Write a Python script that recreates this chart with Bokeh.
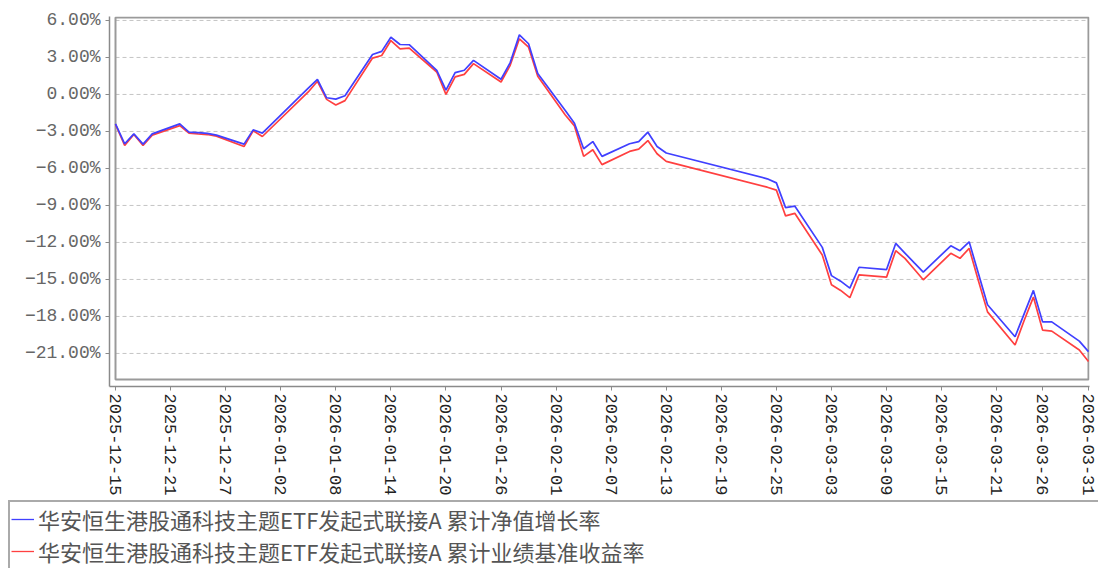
import pandas as pd
from bokeh.plotting import figure
from bokeh.layouts import column
from bokeh.models import (FixedTicker, DatetimeTickFormatter, Range1d, Legend,
                          LegendItem, ColumnDataSource)
from bokeh.embed import file_html
from bokeh.resources import INLINE

# ---------------- data ----------------
dates = [
    "2025-12-15", "2025-12-16", "2025-12-17", "2025-12-18", "2025-12-19",
    "2025-12-22", "2025-12-23", "2025-12-24", "2025-12-25", "2025-12-26",
    "2025-12-29", "2025-12-30", "2025-12-31",
    "2026-01-05", "2026-01-06", "2026-01-07", "2026-01-08", "2026-01-09",
    "2026-01-12", "2026-01-13", "2026-01-14", "2026-01-15", "2026-01-16",
    "2026-01-19", "2026-01-20", "2026-01-21", "2026-01-22", "2026-01-23",
    "2026-01-26", "2026-01-27", "2026-01-28", "2026-01-29", "2026-01-30",
    "2026-02-02", "2026-02-03", "2026-02-04", "2026-02-05", "2026-02-06",
    "2026-02-09", "2026-02-10", "2026-02-11", "2026-02-12", "2026-02-13",
    "2026-02-24", "2026-02-25", "2026-02-26", "2026-02-27",
    "2026-03-02", "2026-03-03", "2026-03-04", "2026-03-05", "2026-03-06",
    "2026-03-09", "2026-03-10", "2026-03-11", "2026-03-12", "2026-03-13",
    "2026-03-16", "2026-03-17", "2026-03-18", "2026-03-19", "2026-03-20",
    "2026-03-23", "2026-03-24", "2026-03-25", "2026-03-26", "2026-03-27",
    "2026-03-30", "2026-03-31",
]

nav_growth = [
    -2.39, -4.00, -3.20, -4.03, -3.20,
    -2.39, -3.06, -3.10, -3.15, -3.30,
    -4.03, -2.87, -3.14,
    0.52, 1.23, -0.27, -0.38, -0.11,
    3.24, 3.49, 4.64, 4.05, 4.03,
    1.96, 0.35, 1.77, 1.96, 2.76,
    1.23, 2.58, 4.83, 4.11, 1.69,
    -1.30, -2.33, -4.40, -3.82, -5.02,
    -4.00, -3.82, -3.06, -4.22, -4.75,
    -6.84, -7.17, -9.18, -9.05,
    -12.40, -14.69, -15.14, -15.70, -14.01,
    -14.20, -12.08, -12.86, -13.64, -14.41,
    -12.27, -12.67, -11.95, -14.50, -17.05,
    -19.65, -17.77, -15.89, -18.44, -18.44,
    -20.00, -20.85,
]

benchmark_return = [
    -2.42, -4.14, -3.25, -4.14, -3.30,
    -2.53, -3.14, -3.20, -3.25, -3.38,
    -4.22, -2.95, -3.41,
    0.20, 1.07, -0.40, -0.86, -0.50,
    2.95, 3.16, 4.37, 3.70, 3.75,
    1.82, 0.00, 1.42, 1.63, 2.50,
    1.01, 2.36, 4.51, 3.83, 1.47,
    -1.67, -2.55, -5.02, -4.48, -5.69,
    -4.62, -4.43, -3.74, -4.81, -5.43,
    -7.52, -7.76, -9.85, -9.64,
    -13.02, -15.43, -15.89, -16.48, -14.63,
    -14.81, -12.67, -13.29, -14.15, -15.03,
    -12.88, -13.29, -12.48, -15.09, -17.63,
    -20.32, -18.31, -16.43, -19.11, -19.19,
    -20.72, -21.66,
]

x_tick_labels = [
    "2025-12-15", "2025-12-21", "2025-12-27", "2026-01-02", "2026-01-08",
    "2026-01-14", "2026-01-20", "2026-01-26", "2026-02-01", "2026-02-07",
    "2026-02-13", "2026-02-19", "2026-02-25", "2026-03-03", "2026-03-09",
    "2026-03-15", "2026-03-21", "2026-03-26", "2026-03-31",
]
y_ticks = [-21, -18, -15, -12, -9, -6, -3, 0, 3, 6]

series_names = [
    "华安恒生港股通科技主题ETF发起式联接A 累计净值增长率",
    "华安恒生港股通科技主题ETF发起式联接A 累计业绩基准收益率",
]
series_colors = ["#4040ff", "#ff4040"]

# ---------------- main figure ----------------
def ms(s):
    return pd.Timestamp(s).value / 1e6

DAY = 86400000.0
x_start, x_end = ms(dates[0]), ms(dates[-1])

p = figure(
    width=1098, height=498,
    x_axis_type="datetime",
    x_range=Range1d(x_start - 0.654 * DAY, x_end + 0.11 * DAY),
    y_range=Range1d(-23.68, 6.32),
    output_backend="svg", toolbar_location=None,
    min_border_left=109, min_border_right=9,
    min_border_top=16, min_border_bottom=109,
)
p.outline_line_color = None
p.xgrid.visible = False
p.ygrid.visible = False
p.background_fill_color = "white"
p.border_fill_color = "white"

# dashed horizontal grid lines (inside inner box)
p.segment(x0=[x_start] * len(y_ticks), x1=[x_end] * len(y_ticks),
          y0=y_ticks, y1=y_ticks,
          line_color="#c4c4c4", line_width=1, line_dash="4 3")

# inner box
p.quad(left=[x_start], right=[x_end], top=[6.24], bottom=[-23.12],
       fill_color=None, line_color="#9a9a9a", line_width=2)

src = ColumnDataSource(dict(x=pd.to_datetime(dates), nav=nav_growth,
                            bench=benchmark_return))
p.line("x", "bench", source=src, line_color=series_colors[1], line_width=1.7)
p.line("x", "nav", source=src, line_color=series_colors[0], line_width=1.7)

# y axis
yax = p.yaxis[0]
yax.ticker = FixedTicker(ticks=y_ticks)
yax.major_label_overrides = {v: (f"{v:.2f}%").replace("-", "−") for v in y_ticks}
yax.major_label_text_font = "Liberation Mono"
yax.major_label_text_font_size = "18px"
yax.major_label_text_color = "#666666"
yax.axis_line_color = "#8a8a8a"
yax.axis_line_width = 1.5
yax.major_tick_line_color = "#8a8a8a"
yax.major_tick_out = 4
yax.major_tick_in = 0
yax.minor_tick_line_color = None
yax.major_label_standoff = 5

# x axis
xax = p.xaxis[0]
xax.ticker = FixedTicker(ticks=[ms(t) for t in x_tick_labels])
fmt = "%Y-%m-%d"
xax.formatter = DatetimeTickFormatter(
    microseconds=fmt, milliseconds=fmt, seconds=fmt, minsec=fmt, minutes=fmt,
    hourmin=fmt, hours=fmt, days=fmt, months=fmt, years=fmt)
xax.major_label_orientation = "vertical"
xax.major_label_text_font = "Liberation Mono"
xax.major_label_text_font_size = "17px"
xax.major_label_text_color = "#222222"
xax.axis_line_color = "#8a8a8a"
xax.axis_line_width = 1.5
xax.major_tick_line_color = "#8a8a8a"
xax.major_tick_out = 4
xax.major_tick_in = 0
xax.minor_tick_line_color = None
xax.major_label_standoff = 3

# ---------------- legend strip ----------------
lg = figure(width=1098, height=70, output_backend="svg", toolbar_location=None,
            x_range=Range1d(0, 1), y_range=Range1d(0, 1),
            min_border=0, min_border_left=8, min_border_top=2)
lg.frame_align = False
lg.axis.visible = False
lg.grid.visible = False
lg.outline_line_color = None
lg.background_fill_color = "white"
lg.border_fill_color = "white"
# series lines (outside this strip's visible range; used for the legend keys)
k_nav = lg.line("x", "nav", source=src, line_color=series_colors[0], line_width=1.3)
k_bench = lg.line("x", "bench", source=src, line_color=series_colors[1], line_width=1.3)

legend = Legend(
    items=[LegendItem(label=series_names[0], renderers=[k_nav]),
           LegendItem(label=series_names[1], renderers=[k_bench])],
    location="top_left",
    orientation="vertical",
    label_text_font="Noto Sans CJK SC",
    label_text_font_size="22px",
    label_text_color="#555555",
    glyph_width=23, glyph_height=20,
    label_height=20, label_standoff=4, label_width=1100,
    spacing=0, padding=1, margin=0,
    border_line_color="#555555", border_line_width=2,
    background_fill_color="white", background_fill_alpha=1.0,
)
lg.add_layout(legend)

layout = column(p, lg, spacing=0)
open("out.html", "w").write(file_html(layout, INLINE))
